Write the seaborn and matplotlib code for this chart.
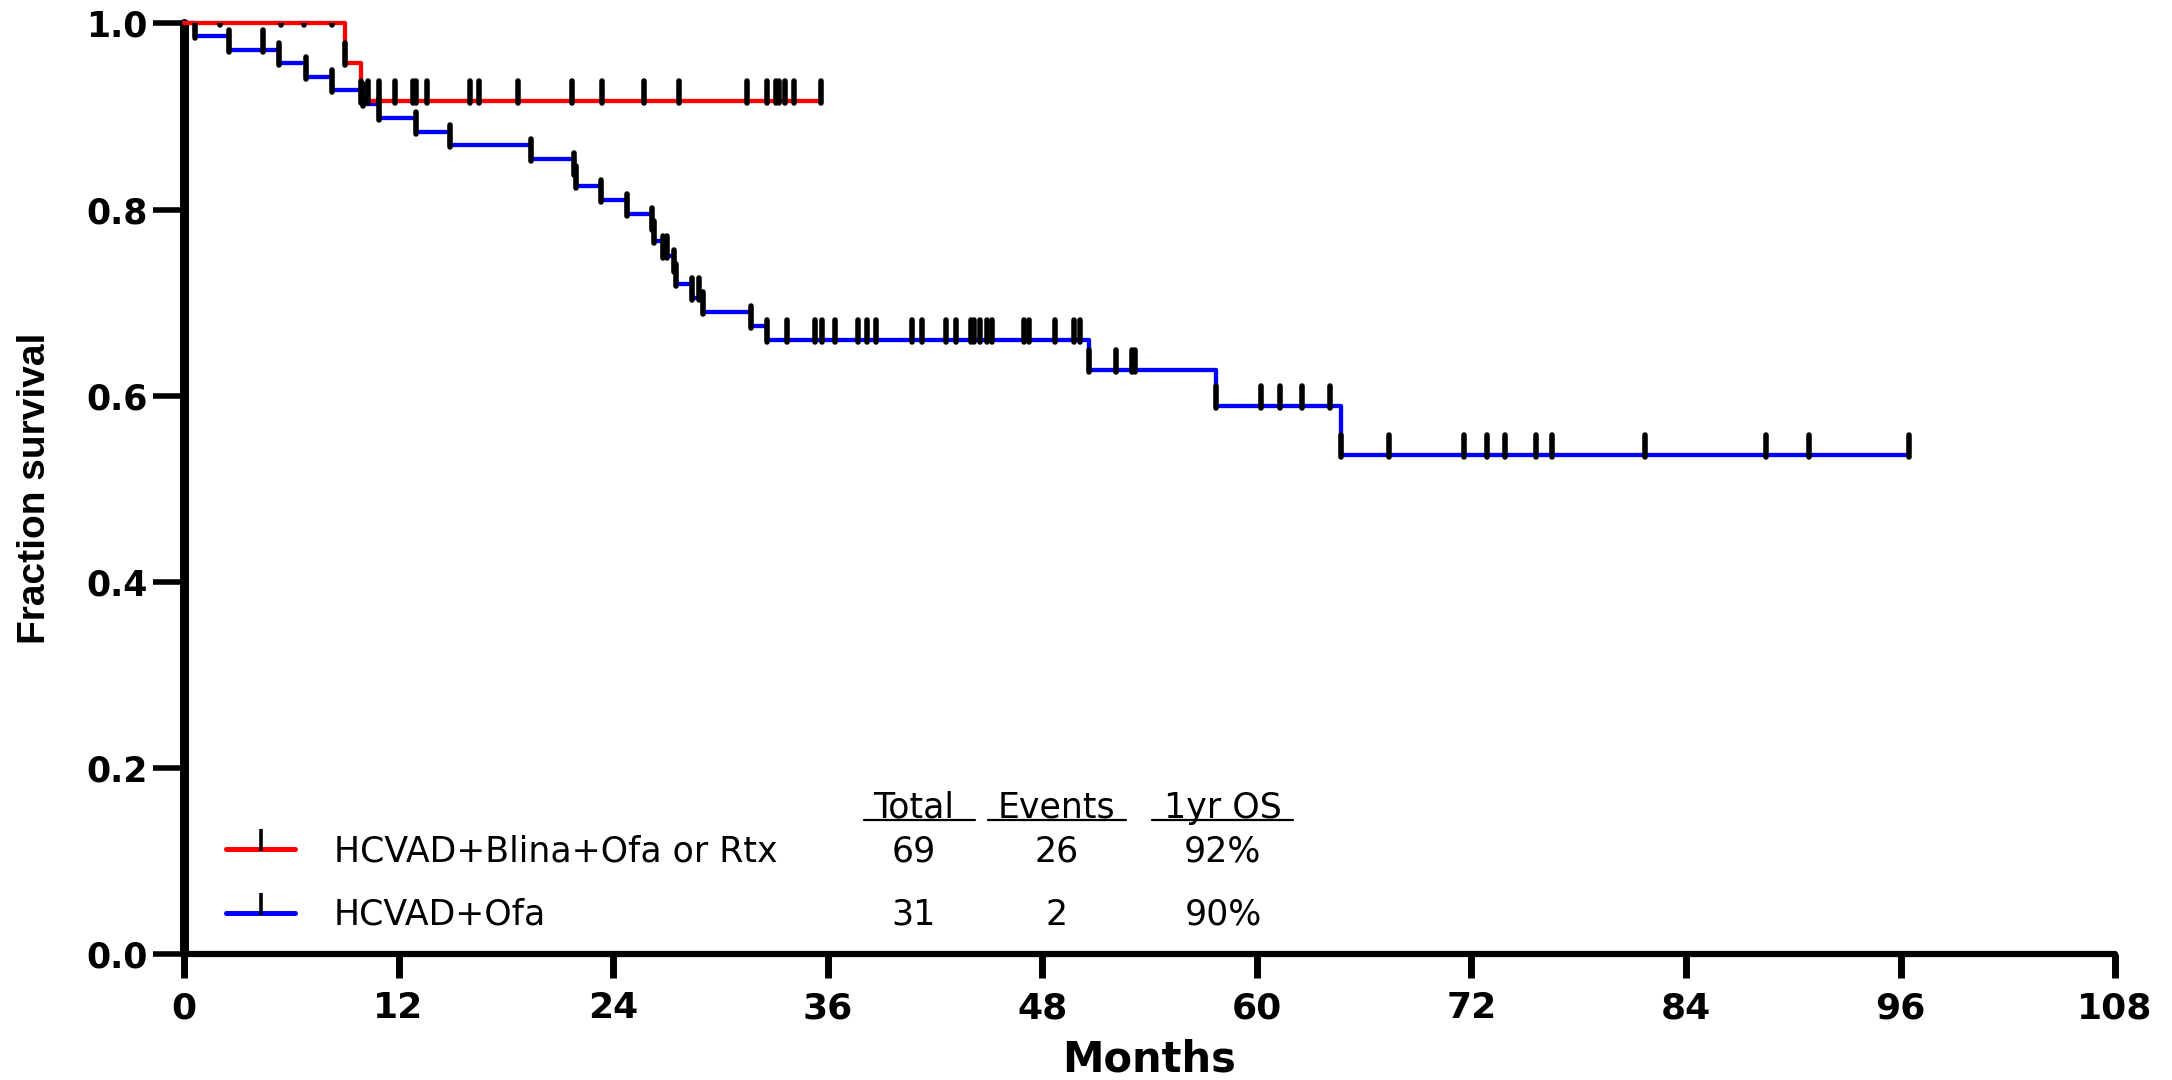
import numpy as np
import matplotlib
matplotlib.use("Agg")
import matplotlib.pyplot as plt
from matplotlib.path import Path
from matplotlib import font_manager
import seaborn as sns

# ── Values ────────────────────────────────────────────────────────────────────
RED_TIMES = [0, 9.0, 9.9, 35.6]
RED_SURV = [1.0, 0.958, 0.917, 0.917]
RED_MARKS = [2.0, 5.4, 6.7, 8.3, 9.0, 9.9, 10.3, 10.9, 11.8, 12.8, 13.0, 13.6,
             16.0, 16.5, 18.7, 21.7, 23.4, 25.7, 27.7, 31.5, 32.6, 33.1, 33.3,
             33.6, 34.1, 35.6]

BLUE_TIMES = [0, 0.6, 2.5, 5.3, 6.8, 8.3, 10.0, 10.9, 13.0, 14.9, 19.4, 21.8,
              21.9, 23.3, 24.8, 26.2, 26.3, 26.8, 27.4, 27.5, 28.4, 29.0, 31.7,
              32.6, 50.6, 57.7, 64.7, 96.5]
BLUE_SURV = [1.0, 0.986, 0.971, 0.957, 0.942, 0.928, 0.913, 0.898, 0.883, 0.869,
             0.854, 0.839, 0.825, 0.810, 0.795, 0.780, 0.766, 0.750, 0.735,
             0.720, 0.705, 0.690, 0.675, 0.660, 0.628, 0.589, 0.536, 0.536]
BLUE_MARKS = [0.6, 2.5, 4.4, 5.3, 6.8, 8.3, 10.0, 10.9, 13.0, 14.9, 19.4, 21.8,
              21.9, 23.3, 24.8, 26.2, 26.3, 26.8, 27.0, 27.4, 27.5, 28.4, 28.8,
              29.0, 31.7, 32.6, 33.7, 35.3, 35.7, 36.4, 37.7, 38.2, 38.7, 40.7,
              41.3, 42.6, 43.2, 44.0, 44.2, 44.5, 44.9, 45.2, 47.0, 47.25, 48.7,
              49.8, 50.1, 50.6, 52.1, 53.0, 53.2, 57.7, 60.25, 61.3, 62.5, 64.1,
              64.7, 67.4, 71.6, 72.85, 73.9, 75.6, 76.5, 81.7, 88.5, 90.9, 96.5]

GROUPS = ["HCVAD+Blina+Ofa or Rtx", "HCVAD+Ofa"]
TOTALS = ["69", "31"]
EVENTS = ["26", "2"]
OS_1YR = ["92%", "90%"]
HEADERS = ["Total", "Events", "1yr OS"]

X_TICKS = list(range(0, 109, 12))
Y_TICKS = [0.0, 0.2, 0.4, 0.6, 0.8, 1.0]

RED = "#FF0000"
BLUE = "#0000FF"

# ── Style ─────────────────────────────────────────────────────────────────────
sns.set_style("white")
plt.rcParams.update({
    "font.family": ["DejaVu Sans"],
    "text.color": "black",
    "axes.labelcolor": "black",
    "xtick.color": "black",
    "ytick.color": "black",
})

avail = {f.name for f in font_manager.fontManager.ttflist}
if "Liberation Sans Narrow" in avail:
    YLAB_FONT, YLAB_SIZE = "Liberation Sans Narrow", 34
else:
    YLAB_FONT, YLAB_SIZE = "Liberation Sans", 28

# censor tick: a short vertical stroke sitting on the curve
TICK = Path([(0, -0.11), (0, 1.0)], [Path.MOVETO, Path.LINETO])


def step_value(times, surv, t):
    i = np.searchsorted(times, t, side="right") - 1
    return np.asarray(surv)[i]


fig = plt.figure(figsize=(21.72, 10.8), dpi=100)
ax = fig.add_axes([0.0847, 0.1167, 0.8891, 0.8616])

for times, surv, col in [(BLUE_TIMES, BLUE_SURV, BLUE), (RED_TIMES, RED_SURV, RED)]:
    sns.lineplot(x=times, y=surv, drawstyle="steps-post", color=col,
                 linewidth=3.1, estimator=None, errorbar=None, sort=False,
                 ax=ax, clip_on=False, zorder=3)

for times, surv, marks in [(BLUE_TIMES, BLUE_SURV, BLUE_MARKS),
                           (RED_TIMES, RED_SURV, RED_MARKS)]:
    sns.scatterplot(x=marks, y=step_value(times, surv, marks), marker=TICK,
                    s=800, color="black", edgecolor="black", linewidth=4,
                    capstyle="round", ax=ax, zorder=4, legend=False)

ax.set_xlim(0, 108)
ax.set_ylim(0, 1.0)
ax.set_xticks(X_TICKS)
ax.set_xticklabels([str(v) for v in X_TICKS], fontweight="bold")
ax.set_yticks(Y_TICKS)
ax.set_yticklabels([f"{v:.1f}" for v in Y_TICKS], fontweight="bold")

for side in ("top", "right"):
    ax.spines[side].set_visible(False)
ax.spines["left"].set_linewidth(6.5)
ax.spines["bottom"].set_linewidth(4.5)
for side in ("left", "bottom"):
    ax.spines[side].set_color("black")
    ax.spines[side].set_capstyle("round")

ax.tick_params(axis="y", length=22, width=4, pad=4, direction="out",
               labelsize=25, color="black", labelcolor="black", left=True)
ax.tick_params(axis="x", length=17, width=5, pad=10, direction="out",
               labelsize=26, color="black", labelcolor="black", bottom=True)

ax.set_xlabel("Months", fontsize=30, fontweight="bold", color="black")
ax.xaxis.set_label_coords(0.5, -0.1135)
ax.xaxis.label.set_va("center")
ax.set_ylabel("Fraction survival", fontsize=YLAB_SIZE, fontweight="bold",
              family=[YLAB_FONT, "DejaVu Sans"], color="black")
ax.yaxis.set_label_coords(-0.0769, 0.5)
ax.yaxis.label.set_va("center")

# ── In-plot legend / summary table ────────────────────────────────────────────
tr = ax.transAxes
LEG_FS = 25
col_x = [0.3778, 0.4519, 0.538]
ul_spans = [(0.3522, 0.4097), (0.4165, 0.4880), (0.5014, 0.5744)]
for head, cx, (u0, u1) in zip(HEADERS, col_x, ul_spans):
    ax.text(cx, 0.157, head, transform=tr, ha="center", va="center",
            fontsize=LEG_FS)
    ax.plot([u0, u1], [0.1445, 0.1445], transform=tr, color="black",
            linewidth=1.6, clip_on=False)

row_y = [0.110, 0.042]
line_y = [0.1125, 0.0444]
for i, col in enumerate([RED, BLUE]):
    ax.plot([0.0216, 0.0577], [line_y[i]] * 2, transform=tr, color=col,
            linewidth=3.6, solid_capstyle="round", clip_on=False)
    ax.scatter([0.0398], [line_y[i]], transform=tr, marker=TICK, s=800,
               color="black", linewidth=2.6, clip_on=False, zorder=5)
    ax.text(0.0777, row_y[i], GROUPS[i], transform=tr, ha="left",
            va="center", fontsize=LEG_FS)
    for val, cx in zip([TOTALS[i], EVENTS[i], OS_1YR[i]], col_x):
        ax.text(cx, row_y[i], val, transform=tr, ha="center", va="center",
                fontsize=LEG_FS)

fig.savefig("out.png", dpi=100)
plt.close(fig)
